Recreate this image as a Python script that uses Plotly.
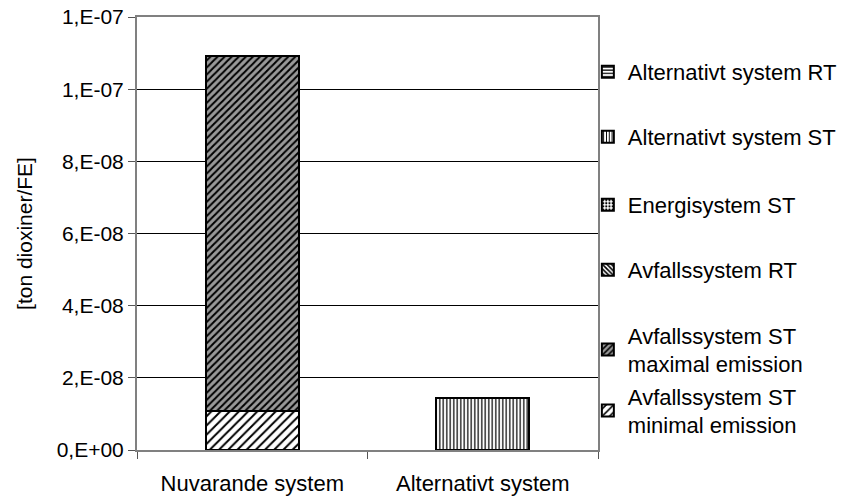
import plotly.graph_objects as go

categories = ["Nuvarande system", "Alternativt system"]

avfall_st_min = [1.08e-08, 0]
avfall_st_max = [9.83e-08, 0]
avfall_rt = [0, 0]
energi_st = [0, 0]
alt_st = [0, 1.44e-08]
alt_rt = [0, 0]

tick_vals = [0, 2e-08, 4e-08, 6e-08, 8e-08, 1e-07, 1.2e-07]
tick_text = ["0,E+00", "2,E-08", "4,E-08", "6,E-08", "8,E-08", "1,E-07", "1,E-07"]

FONT = "Liberation Sans, Arial, sans-serif"
FS = 22
TFS = 21

series = [
    ("Avfallssystem ST<br>minimal emission", avfall_st_min,
     dict(shape="/", bgcolor="white", fgcolor="black", size=6.5, solidity=0.3, fillmode="replace")),
    ("Avfallssystem ST<br>maximal emission", avfall_st_max,
     dict(shape="/", bgcolor="#999999", fgcolor="black", size=5, solidity=0.4, fillmode="replace")),
    ("Avfallssystem RT", avfall_rt,
     dict(shape="\\", bgcolor="white", fgcolor="black", size=4, solidity=0.5, fillmode="replace")),
    ("Energisystem ST", energi_st,
     dict(shape=".", bgcolor="white", fgcolor="black", size=4, solidity=0.4, fillmode="replace")),
    ("Alternativt system ST", alt_st,
     dict(shape="|", bgcolor="white", fgcolor="black", size=3.5, solidity=0.35, fillmode="replace")),
    ("Alternativt system RT", alt_rt,
     dict(shape="-", bgcolor="white", fgcolor="black", size=4, solidity=0.4, fillmode="replace")),
]

# legend item centre positions (pixels from top of the figure)
legend_px = [411, 350, 270, 205, 137, 72]
plot_top, plot_bottom = 17, 450

fig = go.Figure()
layout_legends = {}
for i, (name, vals, pat) in enumerate(series):
    lname = "legend" if i == 0 else f"legend{i+1}"
    fig.add_trace(go.Bar(
        name=name, x=categories, y=vals,
        marker=dict(color=pat["bgcolor"], pattern=pat,
                    line=dict(color="black", width=2)),
        legend=lname,
    ))
    ypaper = (plot_bottom - legend_px[i]) / (plot_bottom - plot_top)
    layout_legends[lname] = dict(
        x=0.978, xanchor="left", y=ypaper, yanchor="middle",
        font=dict(family=FONT, size=FS, color="black"),
        bgcolor="rgba(0,0,0,0)", borderwidth=0,
    )

fig.update_layout(
    barmode="stack",
    bargap=0.595,
    width=846, height=500,
    margin=dict(l=137, r=248, t=17, b=50, autoexpand=False),
    paper_bgcolor="white", plot_bgcolor="white",
    font=dict(family=FONT, size=FS, color="black"),
    showlegend=True,
    **layout_legends,
)

fig.update_yaxes(
    range=[0, 1.2e-07],
    tickvals=tick_vals, ticktext=tick_text,
    showgrid=True, gridcolor="black", gridwidth=1,
    zeroline=False,
    showline=True, linecolor="#808080", linewidth=2, mirror=True,
    ticks="outside", ticklen=7, tickcolor="#555555", tickwidth=1,
    ticklabelstandoff=0,
    ticklabeloverflow="allow",
    tickfont=dict(family=FONT, size=TFS, color="black"),
    title=dict(text="[ton dioxiner/FE]", font=dict(family=FONT, size=TFS, color="black"), standoff=18),
    automargin=False,
)
fig.update_xaxes(
    showline=True, linecolor="#808080", linewidth=2, mirror=True,
    ticks="outside", tickson="boundaries", ticklen=7, tickcolor="#555555", tickwidth=1,
    ticklabelstandoff=13,
    ticklabeloverflow="allow",
    tickfont=dict(family=FONT, size=FS, color="black"),
    automargin=False,
)

fig.write_html(
    "out.html",
    config={"displayModeBar": False},
    post_script="document.body.style.margin='0';document.body.style.overflow='hidden';",
)
